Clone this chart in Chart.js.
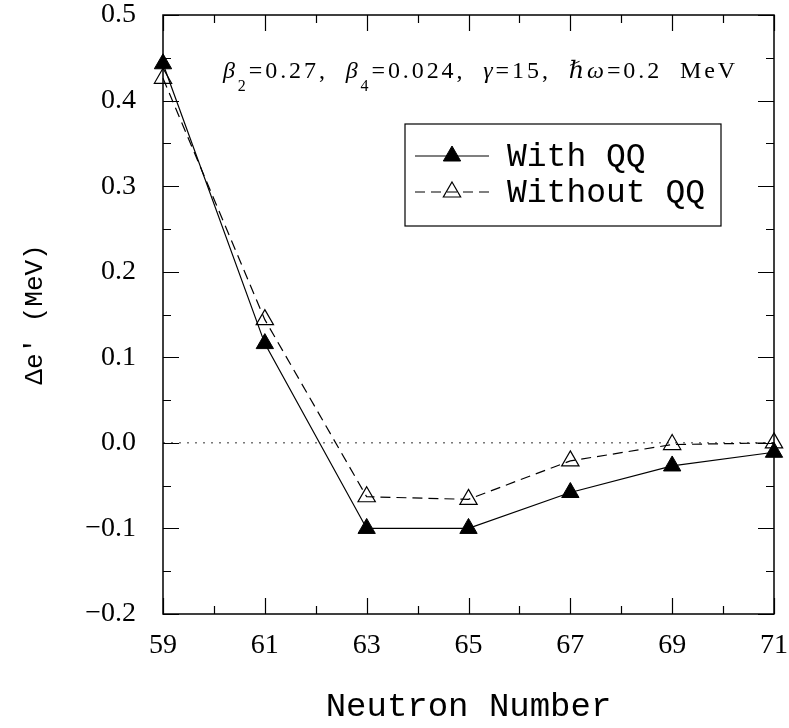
<!DOCTYPE html>
<html><head><meta charset="utf-8">
<script src="https://cdn.jsdelivr.net/npm/chart.js@4/dist/chart.umd.min.js"></script>
<style>html,body{margin:0;padding:0;background:#fff}#wrap{width:789px;height:728px}</style>
</head><body><div id="wrap"><canvas id="c" width="789" height="728"></canvas></div>
<script>
const neutronNumbers = [59, 61, 63, 65, 67, 69, 71];
const withQQ    = [0.443, 0.116, -0.100, -0.100, -0.058, -0.027, -0.011];
const withoutQQ = [0.426, 0.144, -0.063, -0.066, -0.021, -0.002, 0.000];
const seriesNames = ['With QQ', 'Without QQ'];
const xMajorTicks = [59, 61, 63, 65, 67, 69, 71];
const xTickLabels = ['59', '61', '63', '65', '67', '69', '71'];
const xMinorTicks = [60, 62, 64, 66, 68, 70];
const yMajorTicks = [-0.2, -0.1, 0.0, 0.1, 0.2, 0.3, 0.4, 0.5];
const yTickLabels = ['\u22120.2', '\u22120.1', '0.0', '0.1', '0.2', '0.3', '0.4', '0.5'];
const yMinorTicks = [-0.15, -0.05, 0.05, 0.15, 0.25, 0.35, 0.45];
const xTitle = 'Neutron Number';
const yTitle = '\u0394e\u2032 (MeV)';

const SERIF = '"Liberation Serif", "DejaVu Serif", serif';
const MONO = '"Liberation Mono", "DejaVu Sans Mono", monospace';

const toPts = (ys) => neutronNumbers.map((x, i) => ({x: x, y: ys[i]}));

const decor = {
  id: 'decor',
  beforeDatasetsDraw(chart) {
    const ctx = chart.ctx, a = chart.chartArea, ys = chart.scales.y;
    const y0 = ys.getPixelForValue(0);
    ctx.save();
    ctx.strokeStyle = '#333';
    ctx.lineWidth = 1;
    ctx.setLineDash([2, 6]);
    ctx.beginPath(); ctx.moveTo(a.left, y0); ctx.lineTo(a.right, y0); ctx.stroke();
    ctx.restore();
  },
  afterDraw(chart) {
    const ctx = chart.ctx, a = chart.chartArea, xs = chart.scales.x, ys = chart.scales.y;
    ctx.save();
    ctx.strokeStyle = '#000';
    ctx.lineWidth = 1.5;
    ctx.strokeRect(a.left, a.top, a.right - a.left, a.bottom - a.top);
    ctx.lineWidth = 1.2;
    const MAJ = 16, MIN = 8;
    ctx.beginPath();
    const xt = (v, L) => { const p = Math.round(xs.getPixelForValue(v)) + 0.5;
      ctx.moveTo(p, a.bottom); ctx.lineTo(p, a.bottom - L);
      ctx.moveTo(p, a.top); ctx.lineTo(p, a.top + L); };
    const yt = (v, L) => { const p = Math.round(ys.getPixelForValue(v)) + 0.5;
      ctx.moveTo(a.left, p); ctx.lineTo(a.left + L, p);
      ctx.moveTo(a.right, p); ctx.lineTo(a.right - L, p); };
    xMajorTicks.forEach(v => xt(v, MAJ));
    xMinorTicks.forEach(v => xt(v, MIN));
    yMajorTicks.forEach(v => yt(v, MAJ));
    yMinorTicks.forEach(v => yt(v, MIN));
    ctx.stroke();

    // annotation text
    const segs = [
      {t: '\u03B2', it: true}, {t: '2', sub: true}, {t: '=0.27,  '},
      {t: '\u03B2', it: true}, {t: '4', sub: true}, {t: '=0.024,  '},
      {t: '\u03B3', it: true}, {t: '=15,  '},
      {t: '\u210F\u03C9', it: true}, {t: '=0.2  MeV'}
    ];
    const fontOf = s => (s.it ? 'italic ' : '') + (s.sub ? '16px ' : '24px ') + SERIF;
    let nChars = 0, base = 0;
    segs.forEach(s => { ctx.font = fontOf(s); base += ctx.measureText(s.t).width; nChars += s.t.length; });
    const targetW = 515, sp = (targetW - base) / nChars;
    let x = 223; const by = 78;
    ctx.fillStyle = '#000';
    ctx.textBaseline = 'alphabetic';
    ctx.textAlign = 'left';
    segs.forEach(s => {
      ctx.font = fontOf(s);
      for (const ch of s.t) {
        ctx.fillText(ch, x, s.sub ? by + 13 : by);
        x += ctx.measureText(ch).width + sp;
      }
    });

    // legend box
    const bx = 405, bt = 124, bw = 316, bh = 102;
    ctx.lineWidth = 1.2;
    ctx.strokeStyle = '#000';
    ctx.strokeRect(bx, bt, bw, bh);
    const rows = [156, 192];
    chart.data.datasets.forEach((ds, i) => {
      const ry = rows[i];
      ctx.save();
      ctx.strokeStyle = ds.borderColor;
      ctx.lineWidth = ds.borderWidth;
      ctx.setLineDash(ds.borderDash || []);
      ctx.beginPath(); ctx.moveTo(415, ry); ctx.lineTo(489, ry); ctx.stroke();
      ctx.setLineDash([]);
      ctx.fillStyle = ds.pointBackgroundColor;
      ctx.strokeStyle = ds.pointBorderColor;
      ctx.lineWidth = ds.pointBorderWidth;
      Chart.helpers.drawPoint(ctx, {pointStyle: 'triangle', radius: ds.pointRadius, rotation: 0, borderWidth: ds.pointBorderWidth}, 452, ry);
      ctx.restore();
      ctx.font = '33px ' + MONO;
      ctx.fillStyle = '#000';
      ctx.textBaseline = 'middle';
      ctx.fillText(ds.label, 507, ry + 1);
    });
    ctx.restore();
  }
};

new Chart(document.getElementById('c'), {
  type: 'line',
  data: {
    datasets: [
      {
        label: seriesNames[0], data: toPts(withQQ),
        borderColor: '#000', borderWidth: 1.2, tension: 0,
        pointStyle: 'triangle', pointRadius: 10, pointHoverRadius: 10,
        pointBackgroundColor: '#000', pointBorderColor: '#000', pointBorderWidth: 1,
        clip: false, fill: false
      },
      {
        label: seriesNames[1], data: toPts(withoutQQ),
        borderColor: '#000', borderWidth: 1.2, borderDash: [10, 6], tension: 0,
        pointStyle: 'triangle', pointRadius: 10, pointHoverRadius: 10,
        pointBackgroundColor: 'rgba(0,0,0,0)', pointBorderColor: '#000', pointBorderWidth: 1.2,
        clip: false, fill: false
      }
    ]
  },
  options: {
    responsive: false, animation: false, devicePixelRatio: 1,
    layout: {padding: {top: 15, right: 15, left: 0, bottom: 0}},
    plugins: {legend: {display: false}, tooltip: {enabled: false}},
    events: [],
    scales: {
      x: {
        type: 'linear', min: 59, max: 71,
        grid: {display: false, drawTicks: false}, border: {display: false},
        afterBuildTicks: s => { s.ticks = xMajorTicks.map(v => ({value: v})); },
        afterFit: s => { s.height = 114; s.paddingLeft = 0; s.paddingRight = 0; s.paddingTop = 0; s.paddingBottom = 0; },
        ticks: {
          autoSkip: false, maxRotation: 0, padding: 18, color: '#000',
          font: {family: SERIF, size: 28, lineHeight: 1},
          callback: v => xTickLabels[xMajorTicks.indexOf(v)]
        },
        title: {display: true, text: xTitle, color: '#000',
          font: {family: MONO, size: 34, lineHeight: 1.2}, padding: {top: 0, bottom: 1}}
      },
      y: {
        type: 'linear', min: -0.2, max: 0.5,
        grid: {display: false, drawTicks: false}, border: {display: false},
        afterBuildTicks: s => { s.ticks = yMajorTicks.map(v => ({value: v})); },
        afterFit: s => { s.width = 163; s.paddingLeft = 0; s.paddingRight = 0; s.paddingTop = 0; s.paddingBottom = 0; },
        ticks: {
          autoSkip: false, padding: 27, color: '#000',
          font: {family: SERIF, size: 28, lineHeight: 1},
          callback: v => yTickLabels[yMajorTicks.findIndex(t => Math.abs(t - v) < 1e-9)]
        },
        title: {display: true, text: yTitle, color: '#000',
          font: {family: MONO, size: 26, lineHeight: 1.2}, padding: {top: 20, bottom: 0}}
      }
    }
  },
  plugins: [decor]
});
</script></body></html>
